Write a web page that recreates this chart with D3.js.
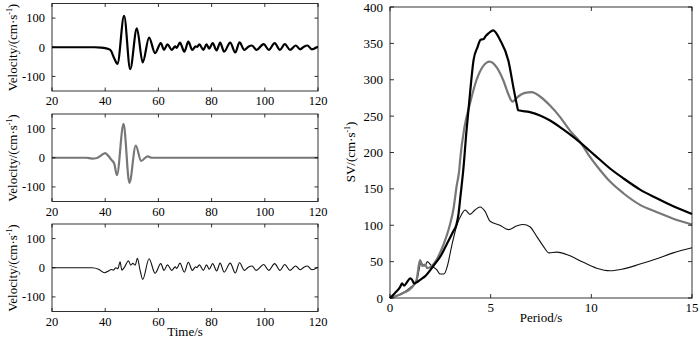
<!DOCTYPE html>
<html>
<head>
<meta charset="utf-8">
<script src="https://cdn.jsdelivr.net/npm/d3@7"></script>
<style>
  body { margin: 0; background: #fff; }
  svg { display: block; font-family: "Liberation Serif", "Times New Roman", serif; }
</style>
</head>
<body>
<svg id="chart" width="700" height="341"></svg>
<script>
// velocity records, [time s, velocity cm/s]
const velTop = [[20,0],[36,0],[38.5,-1],[40,-3],[41.9,-9],[43.5,-40],[44.6,-57],[47.1,108],[49.4,-75],[51.9,65],[54.1,-52],[56.5,33],[58.75,-20],[60.9,14],[62.1,-9],[63.4,10],[65,-9],[66.3,3],[66.9,-2],[68.1,16],[69.75,-15],[71.25,19],[72.75,-9],[74,3],[74.5,1],[75.4,10],[76.9,-9],[78.1,10],[79.1,-5],[80.4,14],[81.9,-11],[83.2,16],[84.7,-15],[87,16],[88.9,-18],[90.5,17],[92.3,-9],[93.8,2],[95.2,6],[96.8,-9],[99.6,11],[101.5,-9],[103.7,14],[105.7,-9],[107.5,11],[109.5,-9],[111.6,6],[113.3,-7],[114.7,2],[116,6],[117.7,-7],[120,2]];
const velMid = [[20,0],[33,0],[35,-3],[36.9,-1],[38.5,8],[40,16],[41.3,5],[42.5,-9],[43.4,-20],[44.4,-60],[46.9,116],[49.1,-86],[51.5,42],[53.5,-11],[55.9,5],[57.5,0],[120,0]];
const velBot = [[20,0],[35,0],[37.5,-5],[39.75,-17],[41.25,-11],[42.25,-6],[43.1,-8],[44,0],[44.75,-3],[45.6,20],[46.25,-8],[47.25,2],[48.75,24],[49.6,9],[50.4,15],[51.25,9],[52.1,32],[53.1,-8],[54.1,-40],[56.5,31],[58.75,-19],[60.9,14],[62.1,-9],[63.4,10],[65,-9],[66.3,3],[66.9,-2],[68.1,16],[69.75,-15],[71.25,19],[72.75,-9],[74,3],[74.5,1],[75.4,10],[76.9,-9],[78.1,10],[79.1,-5],[80.4,14],[81.9,-11],[83.2,16],[84.7,-15],[87,16],[88.9,-18],[90.5,17],[92.3,-9],[93.8,2],[95.2,6],[96.8,-9],[99.6,11],[101.5,-9],[103.7,14],[105.7,-9],[107.5,11],[109.5,-9],[111.6,6],[113.3,-7],[114.7,2],[116,6],[117.7,-7],[120,2]];

// response spectra, [period s, SV cm/s]
const svBlack = [[0,0],[0.25,7],[0.5,15],[0.6,20],[0.7,17],[0.85,22],[1.0,27],[1.1,25],[1.2,20],[1.35,22],[1.5,25],[1.75,30],[2.15,44],[2.5,57],[2.8,73],[3.15,92],[3.3,101],[3.4,115],[3.5,140],[3.64,176],[3.8,230],[3.97,280],[4.15,327],[4.35,345],[4.5,355],[4.65,356],[4.75,360],[4.9,364],[5.13,368],[5.46,355],[5.88,326],[6.16,285],[6.29,267],[6.37,258],[6.95,255.5],[7.45,251],[7.95,244],[8.44,235],[8.94,225],[9.44,214],[9.93,202],[10.43,190],[10.93,178],[11.59,164.5],[12.42,149],[13.25,137],[14.07,126],[15,115.5]];
const svGray = [[0,0],[0.66,7],[1.07,14],[1.32,25],[1.49,52],[1.62,44],[1.74,46],[1.85,41],[2.07,44],[2.32,53],[2.65,73],[2.98,101],[3.15,122],[3.31,154],[3.44,176],[3.48,189],[3.7,235],[3.97,267],[4.3,300],[4.95,325],[5.3,317],[5.63,299],[5.88,280],[6.08,270],[6.37,277],[6.7,282],[7.04,283],[7.45,277],[7.95,264.5],[8.44,249],[8.94,230],[9.44,214.5],[9.93,194],[10.43,176],[10.93,160],[11.59,144],[12.42,128],[13.25,118],[14.07,109],[15,101]];
const svThin = [[0,0],[0.5,5],[0.99,14],[1.32,23],[1.54,48],[1.74,44],[1.85,50],[2.07,44],[2.32,39],[2.48,33],[2.68,33],[2.85,44],[3.06,71],[3.31,99],[3.56,115],[3.73,121],[3.97,115],[4.22,121],[4.47,125],[4.72,119],[4.97,105.5],[5.46,100],[5.88,94],[6.29,99],[6.62,101],[6.95,98],[7.28,85],[7.62,71],[7.9,62],[8.28,63],[8.94,58],[9.6,49],[10.26,41],[10.93,37.5],[11.59,40],[12.42,46.6],[13.25,54],[14.07,62],[15,69]];

const timeTicks = [20, 40, 60, 80, 100, 120];
const velTicks = [-100, 0, 100];
const periodTicks = [0, 5, 10, 15];
const svTicks = [0, 50, 100, 150, 200, 250, 300, 350, 400];

const svg = d3.select("#chart");
const gray = "#777";

function box(g, x, y, xt, yt, fs, tickLen) {
  const [x0, x1] = x.range();
  const [y1, y0] = y.range();
  g.append("rect").attr("x", x0).attr("y", y0).attr("width", x1 - x0).attr("height", y1 - y0)
    .attr("fill", "none").attr("stroke", "#000").attr("stroke-width", 0.8);
  xt.forEach(t => {
    g.append("line").attr("x1", x(t)).attr("x2", x(t)).attr("y1", y1).attr("y2", y1 - tickLen).attr("stroke", "#000").attr("stroke-width", 0.8);
    g.append("line").attr("x1", x(t)).attr("x2", x(t)).attr("y1", y0).attr("y2", y0 + tickLen).attr("stroke", "#000").attr("stroke-width", 0.8);
    g.append("text").attr("x", x(t)).attr("y", y1 + 14).attr("text-anchor", "middle").attr("font-size", fs).text(t);
  });
  yt.forEach(t => {
    g.append("line").attr("x1", x0).attr("x2", x0 + tickLen).attr("y1", y(t)).attr("y2", y(t)).attr("stroke", "#000").attr("stroke-width", 0.8);
    g.append("line").attr("x1", x1).attr("x2", x1 - tickLen).attr("y1", y(t)).attr("y2", y(t)).attr("stroke", "#000").attr("stroke-width", 0.8);
    g.append("text").attr("x", x0 - 7).attr("y", y(t)).attr("dy", "0.35em").attr("text-anchor", "end").attr("font-size", fs).text(t);
  });
}

function unitLabel(g, cx, cy, prefix, fs) {
  const t = g.append("text").attr("transform", `translate(${cx},${cy}) rotate(-90)`)
    .attr("text-anchor", "middle").attr("font-size", fs);
  t.append("tspan").text(prefix + "/(cm·s");
  t.append("tspan").attr("dy", -5).attr("font-size", fs * 0.6).text("-1");
  t.append("tspan").attr("dy", 5).text(")");
}

// left: three velocity panels
const xTime = d3.scaleLinear().domain([20, 120]).range([52, 318]);
const panels = [
  { data: velTop, top: 3.5, color: "#000", w: 2.2 },
  { data: velMid, top: 114, color: gray, w: 2.2 },
  { data: velBot, top: 224, color: "#111", w: 1.1 }
];
panels.forEach((p, i) => {
  const y = d3.scaleLinear().domain([-150, 150]).range([p.top + 87.5, p.top]);
  const g = svg.append("g");
  const clipId = "clip" + i;
  g.append("clipPath").attr("id", clipId).append("rect")
    .attr("x", 52).attr("y", p.top).attr("width", 266).attr("height", 87.5);
  const line = d3.line().x(d => xTime(d[0])).y(d => y(d[1])).curve(d3.curveMonotoneX);
  g.append("path").datum(p.data).attr("d", line).attr("fill", "none")
    .attr("stroke", p.color).attr("stroke-width", p.w).attr("clip-path", `url(#${clipId})`);
  box(g, xTime, y, timeTicks, velTicks, 12.5, 3.5);
  unitLabel(g, 17, p.top + 44, "Velocity", 13);
});
svg.append("text").attr("x", 185).attr("y", 336).attr("text-anchor", "middle").attr("font-size", 13).text("Time/s");

// right: response spectra
const xP = d3.scaleLinear().domain([0, 15]).range([390, 692]);
const yS = d3.scaleLinear().domain([0, 400]).range([298, 7]);
const gR = svg.append("g");
const spec = d3.line().x(d => xP(d[0])).y(d => yS(d[1])).curve(d3.curveMonotoneX);
[[svThin, "#111", 1.1], [svGray, gray, 2.2], [svBlack, "#000", 2.2]].forEach(([d, c, w]) => {
  gR.append("path").datum(d).attr("d", spec).attr("fill", "none").attr("stroke", c).attr("stroke-width", w);
});
box(gR, xP, yS, periodTicks, svTicks, 13, 4);
unitLabel(gR, 355, 152, "SV", 13);
gR.append("text").attr("x", 541).attr("y", 322).attr("text-anchor", "middle").attr("font-size", 13).text("Period/s");
</script>
</body>
</html>
